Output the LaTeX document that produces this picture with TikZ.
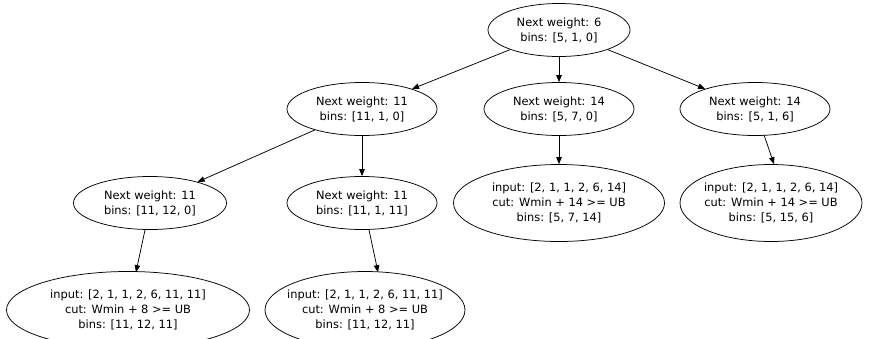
\documentclass[tikz,border=0pt]{standalone}
\usepackage{fontspec}
\setmainfont{DejaVu Sans}
\usetikzlibrary{arrows.meta,shapes.geometric}

\begin{document}
\begin{tikzpicture}[
    x=1pt, y=-1pt,
    stateNode/.style={ellipse, draw=black, line width=0.75pt, inner xsep=-14pt, inner ysep=0pt, align=center, font=\fontsize{11.4}{15}\selectfont, minimum width=150pt, minimum height=53pt},
    cutNode/.style={stateNode, minimum height=77pt},
    edgeStyle/.style={-{Triangle[length=7pt,width=5.5pt]}, line width=0.75pt, draw=black}
]
    \useasboundingbox (0,0) rectangle (891,338);

    % search states
    \node[stateNode, minimum width=142pt] (root) at (559,30) {Next weight: 6\\bins: [5, 1, 0]};
    \node[stateNode] (s11a) at (362,109) {Next weight: 11\\bins: [11, 1, 0]};
    \node[stateNode] (s14a) at (559,109) {Next weight: 14\\bins: [5, 7, 0]};
    \node[stateNode] (s14b) at (755,109) {Next weight: 14\\bins: [5, 1, 6]};
    \node[stateNode, minimum width=153pt] (s11b) at (150,203) {Next weight: 11\\bins: [11, 12, 0]};
    \node[stateNode] (s11c) at (362,203) {Next weight: 11\\bins: [11, 1, 11]};

    % pruned leaves
    \node[cutNode, minimum width=211pt] (cutA) at (559,203) {input: [2, 1, 1, 2, 6, 14]\\cut: Wmin + 14 >= UB\\bins: [5, 7, 14]};
    \node[cutNode, minimum width=182pt] (cutB) at (771,203) {input: [2, 1, 1, 2, 6, 14]\\cut: Wmin + 14 >= UB\\bins: [5, 15, 6]};
    \node[cutNode, minimum width=243pt] (cutC) at (128,310) {input: [2, 1, 1, 2, 6, 11, 11]\\cut: Wmin + 8 >= UB\\bins: [11, 12, 11]};
    \node[cutNode, minimum width=200pt] (cutD) at (365,310) {input: [2, 1, 1, 2, 6, 11, 11]\\cut: Wmin + 8 >= UB\\bins: [11, 12, 11]};

    \draw[edgeStyle] (root) -- (s11a);
    \draw[edgeStyle] (root) -- (s14a);
    \draw[edgeStyle] (root) -- (s14b);
    \draw[edgeStyle] (s11a) -- (s11b);
    \draw[edgeStyle] (s11a) -- (s11c);
    \draw[edgeStyle] (s14a) -- (cutA);
    \draw[edgeStyle] ([xshift=9pt,yshift=1pt]s14b.south) -- ([xshift=3pt]cutB.north);
    \draw[edgeStyle] ([xshift=-5pt]s11b.south) -- ([xshift=8pt,yshift=-1pt]cutC.north);
    \draw[edgeStyle] ([xshift=7pt]s11c.south) -- ([xshift=13pt,yshift=-1pt]cutD.north);
\end{tikzpicture}
\end{document}
